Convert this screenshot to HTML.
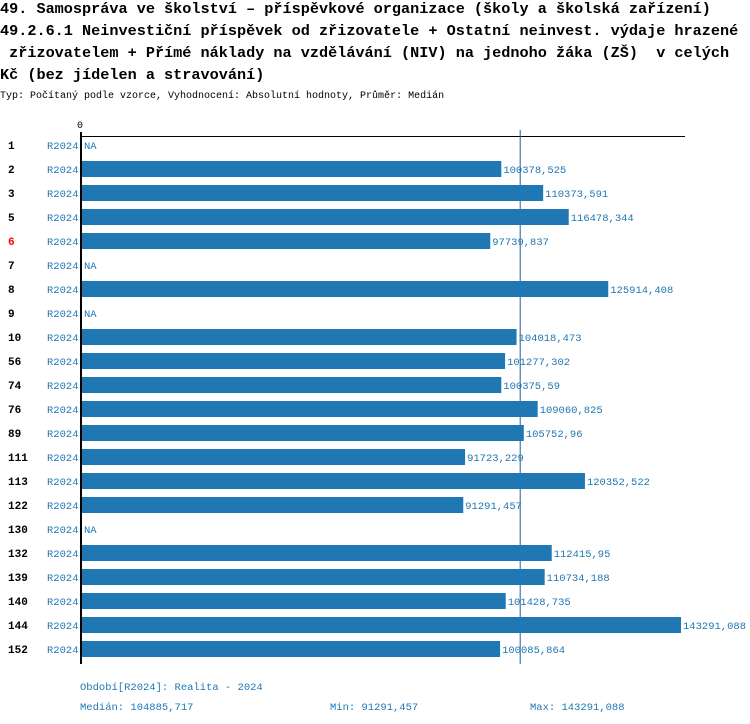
<!DOCTYPE html>
<html><head><meta charset="utf-8"><style>
body{margin:0;background:#fff;width:750px;height:724px;overflow:hidden}
svg{display:block}
.t{font-family:"Liberation Mono",monospace;font-size:15.2px;font-weight:bold;fill:#000}
.s{font-family:"Liberation Mono",monospace;font-size:10px;fill:#000}
.r{font-family:"Liberation Mono",monospace;font-size:10.5px;fill:#1f77b4}
.l{font-family:"Liberation Mono",monospace;font-size:11px;font-weight:bold;fill:#000}
</style></head><body>
<svg id="c" width="750" height="724">
<text class="t" x="0" y="13">49. Samospráva ve školství – příspěvkové organizace (školy a školská zařízení)</text>
<text class="t" x="0" y="35">49.2.6.1 Neinvestiční příspěvek od zřizovatele + Ostatní neinvest. výdaje hrazené</text>
<text class="t" x="0" y="57" xml:space="preserve"> zřizovatelem + Přímé náklady na vzdělávání (NIV) na jednoho žáka (ZŠ)  v celých</text>
<text class="t" x="0" y="79">Kč (bez jídelen a stravování)</text>
<text class="s" x="0" y="98">Typ: Počítaný podle vzorce, Vyhodnocení: Absolutní hodnoty, Průměr: Medián</text>
<text class="s" x="77" y="128">0</text>
<line x1="80" y1="136.5" x2="685" y2="136.5" stroke="#000"/>
<g id="bars"></g>
<line x1="81" y1="132" x2="81" y2="664" stroke="#000" stroke-width="2"/>
<text class="r" x="80" y="690">Období[R2024]: Realita - 2024</text>
<text class="r" x="80" y="710">Medián: 104885,717</text>
<text class="r" x="330" y="710">Min: 91291,457</text>
<text class="r" x="530" y="710">Max: 143291,088</text>
</svg>
<script>
const categories=["1","2","3","5","6","7","8","9","10","56","74","76","89","111","113","122","130","132","139","140","144","152"];
const values=[null,100378.525,110373.591,116478.344,97739.837,null,125914.408,null,104018.473,101277.302,100375.59,109060.825,105752.96,91723.229,120352.522,91291.457,null,112415.95,110734.188,101428.735,143291.088,100085.864];
const labels=["NA","100378,525","110373,591","116478,344","97739,837","NA","125914,408","NA","104018,473","101277,302","100375,59","109060,825","105752,96","91723,229","120352,522","91291,457","NA","112415,95","110734,188","101428,735","143291,088","100085,864"];
const highlight=["6"];
const median=104885.717;
const maxV=143291.088;
const NS="http://www.w3.org/2000/svg";
const x=v=>81+v*(600/maxV);
const y=i=>145+i*24;
const g=document.getElementById('bars');
function mk(tag,attrs){const e=document.createElementNS(NS,tag);for(const k in attrs)e.setAttribute(k,attrs[k]);g.appendChild(e);return e;}
const ml=mk('line',{x1:x(median),y1:130,x2:x(median),y2:664,stroke:'#1f5f8f','stroke-width':1});


categories.forEach((c,i)=>{
  const cy=y(i);
  const t=mk('text',{x:8,y:cy+4,class:'l'});t.textContent=c;
  if(highlight.includes(c))t.style.fill='#f00';
  
  
  const p=mk('text',{x:47,y:cy+4,class:'r'});p.textContent='R2024';
  
  
  const v=values[i];
  let lx=84;
  if(v!==null){
    const b=mk('rect',{x:82,y:cy-8,width:x(v)-82,height:16,fill:'#1f77b4'});
    
    
    lx=x(v)+2;
  }
  const vl=mk('text',{x:lx,y:cy+4,class:'r'});vl.textContent=labels[i];
  
  
});
</script>
</body></html>
